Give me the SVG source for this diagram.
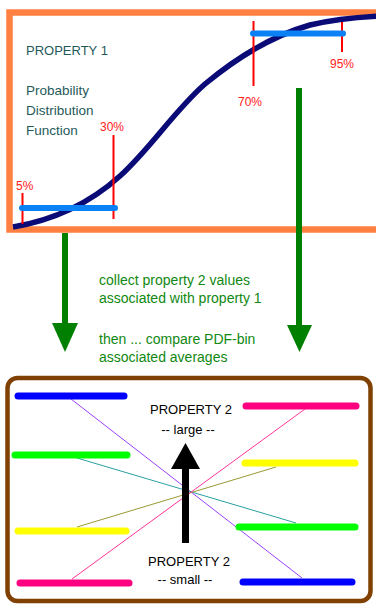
<svg xmlns="http://www.w3.org/2000/svg" width="376" height="605" viewBox="0 0 376 605">
<style>
text{font-family:"Liberation Sans",Arial,sans-serif;font-size:13px}
.teal{fill:#1f5a5a}
.red{fill:#ff2020;font-size:12px}
.grn{fill:#118811;font-size:14px}
.blk{fill:#000}
.rl{stroke:#ff0000;stroke-width:2}
.bb{stroke:#0a82f5;stroke-width:6;stroke-linecap:round}
.bar{stroke-width:7;stroke-linecap:round}
.thin{stroke-width:1;fill:none}
.garrow{stroke:#008000;stroke-width:6}
</style>
<rect width="376" height="605" fill="#fff"/>
<g id="pdf-box">
<rect x="9.5" y="12.5" width="380" height="217" fill="#fff" stroke="#ff8040" stroke-width="6.5"/>
<path d="M13,227 C55,220 90,203 120,176 C150,149 175,110 205,84 C240,55 275,35 310,25 C335,19 360,17 380,16" fill="none" stroke="#0b0b78" stroke-width="5.5"/>
<line class="rl" x1="22.5" y1="193" x2="22.5" y2="224"/>
<line class="rl" x1="113.5" y1="135" x2="113.5" y2="219"/>
<line class="rl" x1="253.5" y1="21" x2="253.5" y2="86"/>
<line class="rl" x1="342" y1="22" x2="342" y2="52"/>
<line class="bb" x1="22" y1="208" x2="115" y2="208"/>
<line class="bb" x1="253" y1="33.5" x2="343" y2="33.5"/>
<text x="16" y="190" class="red">5%</text>
<text x="100" y="131" class="red">30%</text>
<text x="238" y="106" class="red">70%</text>
<text x="330" y="68" class="red">95%</text>
<text x="26" y="55" class="teal">PROPERTY 1</text>
<text x="26" y="95" class="teal" style="font-size:13.5px">Probability</text>
<text x="26" y="115" class="teal" style="font-size:13.5px">Distribution</text>
<text x="26" y="135" class="teal" style="font-size:13.5px">Function</text>
</g>
<g id="connectors">
<line class="garrow" x1="65" y1="233" x2="65" y2="325"/>
<polygon points="52,323 78,323 65,352" fill="#008000"/>
<line class="garrow" x1="299" y1="88" x2="299" y2="327"/>
<polygon points="287,325 312,325 299.5,352" fill="#008000"/>
</g>
<g id="note">
<text x="99" y="285" class="grn">collect property 2 values</text>
<text x="99" y="303" class="grn">associated with property 1</text>
<text x="99" y="344" class="grn">then ... compare PDF-bin</text>
<text x="99" y="362" class="grn">associated averages</text>
</g>
<g id="compare-box">
<rect x="7.5" y="378" width="363" height="223" rx="10" fill="#fff" stroke="#7f4000" stroke-width="4.5"/>
<line class="thin" stroke="#9a40ff" x1="71" y1="399" x2="302" y2="578"/>
<line class="thin" stroke="#2aa0a0" x1="77" y1="458" x2="296" y2="523"/>
<line class="thin" stroke="#999933" x1="77" y1="527" x2="276" y2="467"/>
<line class="thin" stroke="#ff3399" x1="72" y1="579" x2="305" y2="409"/>
<line class="bar" stroke="#0000ff" x1="18" y1="396" x2="124" y2="396"/>
<line class="bar" stroke="#00ff00" x1="15" y1="455" x2="127" y2="455"/>
<line class="bar" stroke="#ffff00" x1="18" y1="531" x2="126" y2="531"/>
<line class="bar" stroke="#ff0080" x1="20" y1="583" x2="129" y2="583"/>
<line class="bar" stroke="#ff0080" x1="246" y1="406" x2="356" y2="406"/>
<line class="bar" stroke="#ffff00" x1="245" y1="463" x2="355" y2="463"/>
<line class="bar" stroke="#00ff00" x1="239" y1="527" x2="355" y2="527"/>
<line class="bar" stroke="#0000ff" x1="243" y1="582" x2="352" y2="582"/>
<line x1="185.5" y1="468" x2="185.5" y2="543" stroke="#000" stroke-width="7"/>
<polygon points="171,469 200,469 185.5,443" fill="#000"/>
<text x="191" y="414" class="blk" text-anchor="middle">PROPERTY 2</text>
<text x="188" y="434" class="blk" text-anchor="middle">-- large --</text>
<text x="189" y="566" class="blk" text-anchor="middle">PROPERTY 2</text>
<text x="185" y="584" class="blk" text-anchor="middle">-- small --</text>
</g>
</svg>
